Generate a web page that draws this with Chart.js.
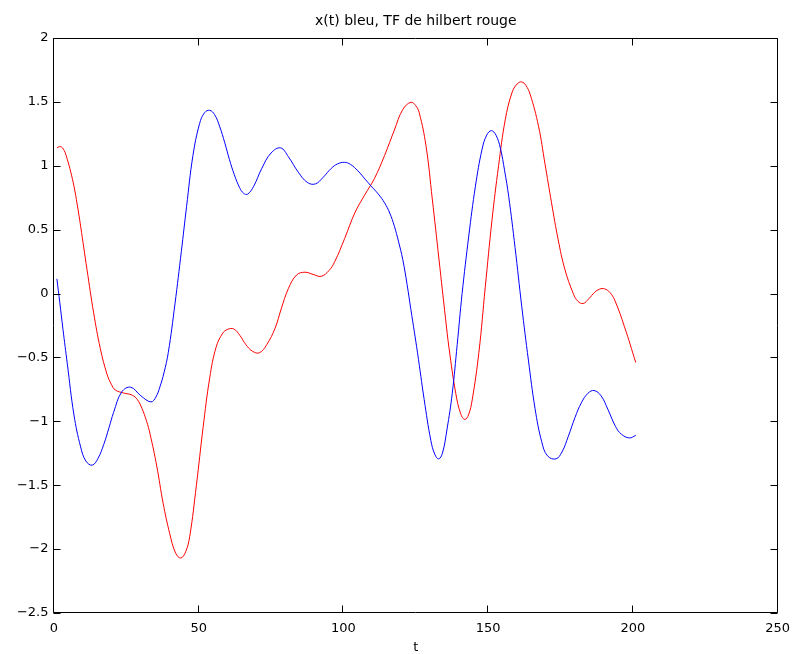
<!DOCTYPE html>
<html>
<head>
<meta charset="utf-8">
<script src="https://cdn.jsdelivr.net/npm/chart.js@4.4.1/dist/chart.umd.min.js"></script>
<style>
html,body{margin:0;padding:0;background:#fff;}
#wrap{width:798px;height:654px;position:relative;}
</style>
</head>
<body>
<div id="wrap"><canvas id="c"></canvas></div>
<script>
const chartTitle = 'x(t) bleu, TF de hilbert rouge';
const xLabel = 't';
const xTicks = [0, 50, 100, 150, 200, 250];
const yTicks = [-2.5, -2, -1.5, -1, -0.5, 0, 0.5, 1, 1.5, 2];

const tBlue = [1, 2, 3.1, 4.6, 6.9, 9.2, 11, 13.2, 15.2, 17.2, 19, 20.6, 23.4, 26.5, 30, 33.5, 35.2, 36.6, 38, 39.5, 41.8, 44, 45.8, 48, 50.3, 52, 53.8, 55.5, 57.2, 59, 60.6, 62.3, 64.1, 65.5, 66.9, 69, 71.8, 75, 78.3, 81, 84.4, 87.5, 90.3, 93, 95.8, 98, 100.4, 102.5, 105, 107.5, 109.6, 112, 114.2, 116, 117.6, 119, 120.5, 122, 123.3, 125.6, 127.9, 130.2, 131.6, 132.9, 134.2, 135.8, 137.6, 139.3, 141, 143.3, 145.6, 147.9, 149.5, 151.1, 152.7, 154.2, 155.7, 157.1, 159.3, 161.6, 163.9, 166.2, 168.5, 170.5, 173.4, 175.5, 177.7, 180, 182.2, 184.5, 186.6, 189, 191.4, 194, 196, 198.8, 201];
const vBlue = [0.115, -0.07, -0.28, -0.55, -0.95, -1.2, -1.31, -1.343, -1.29, -1.18, -1.05, -0.93, -0.77, -0.733, -0.80, -0.848, -0.81, -0.73, -0.62, -0.46, -0.08, 0.33, 0.68, 1.08, 1.33, 1.415, 1.434, 1.40, 1.31, 1.18, 1.05, 0.93, 0.83, 0.785, 0.778, 0.84, 0.98, 1.10, 1.14, 1.07, 0.95, 0.87, 0.858, 0.91, 0.98, 1.015, 1.027, 1.01, 0.96, 0.895, 0.84, 0.78, 0.71, 0.63, 0.527, 0.41, 0.266, 0.07, -0.125, -0.464, -0.83, -1.15, -1.26, -1.294, -1.25, -1.06, -0.78, -0.40, 0.0, 0.45, 0.84, 1.13, 1.24, 1.275, 1.24, 1.14, 0.96, 0.76, 0.36, -0.10, -0.52, -0.90, -1.16, -1.27, -1.294, -1.24, -1.117, -0.97, -0.855, -0.78, -0.759, -0.80, -0.908, -1.04, -1.10, -1.13, -1.11];

const tRed = [1, 2.3, 3.5, 4.6, 5.8, 6.9, 8, 9.2, 11.4, 13.7, 16, 18.3, 19.8, 21.2, 24, 27, 28.8, 30.4, 32, 33.2, 35.5, 37.7, 40, 42, 43.8, 45.5, 46.9, 49.2, 51.5, 53.8, 56, 58.3, 60, 62.1, 64.3, 66.3, 68.5, 70.9, 73.5, 76.4, 78.5, 81, 83.8, 86.7, 89.5, 92.3, 95, 97, 100.4, 103.9, 107.3, 110.7, 114.2, 117.6, 120.5, 123.3, 125, 126.2, 128.5, 130.7, 133, 135.3, 136.5, 138.8, 140.5, 141.9, 143.2, 144.5, 146.8, 149, 151.3, 153.6, 155.9, 158.2, 160, 161.6, 163, 164.5, 167.4, 169.6, 171.9, 174.2, 176.5, 179.4, 181, 182.8, 184.8, 186.8, 188.5, 190.2, 192, 193.7, 197.1, 201];
const vRed = [1.14, 1.15, 1.12, 1.05, 0.95, 0.84, 0.70, 0.527, 0.188, -0.151, -0.43, -0.63, -0.71, -0.755, -0.778, -0.795, -0.83, -0.90, -1.0, -1.10, -1.35, -1.64, -1.88, -2.03, -2.07, -2.02, -1.90, -1.50, -1.05, -0.66, -0.42, -0.31, -0.28, -0.277, -0.33, -0.40, -0.45, -0.464, -0.40, -0.27, -0.12, 0.04, 0.145, 0.167, 0.15, 0.135, 0.18, 0.25, 0.43, 0.63, 0.77, 0.90, 1.08, 1.28, 1.44, 1.497, 1.47, 1.414, 1.16, 0.74, 0.27, -0.20, -0.43, -0.78, -0.94, -0.985, -0.95, -0.83, -0.46, 0.05, 0.57, 1.0, 1.36, 1.57, 1.64, 1.656, 1.63, 1.56, 1.31, 1.02, 0.71, 0.42, 0.19, 0.0, -0.06, -0.078, -0.04, 0.01, 0.035, 0.037, 0.01, -0.05, -0.26, -0.54];

const toPts = (ts, vs) => ts.map((t, i) => ({x: t, y: vs[i]}));
const FONT = 'DejaVu Sans';

const boxPlugin = {
  id: 'matlabBox',
  afterDatasetsDraw(chart) {
    const {ctx, chartArea: a, scales} = chart;
    const L = Math.round(a.left) - 0.5, R = Math.round(a.right) - 0.5;
    const T = Math.round(a.top) + 0.5, B = Math.round(a.bottom) - 0.5;
    const len = 7;
    ctx.save();
    ctx.strokeStyle = '#000';
    ctx.lineWidth = 1;
    ctx.beginPath();
    ctx.rect(L, T, R - L, B - T);
    scales.x.ticks.forEach(tk => {
      const px = Math.round(scales.x.getPixelForValue(tk.value)) - 0.5;
      ctx.moveTo(px, B); ctx.lineTo(px, B - len);
      ctx.moveTo(px, T); ctx.lineTo(px, T + len);
    });
    scales.y.ticks.forEach(tk => {
      const py = Math.round(scales.y.getPixelForValue(tk.value)) + 0.5;
      ctx.moveTo(L, py); ctx.lineTo(L + len, py);
      ctx.moveTo(R, py); ctx.lineTo(R - len, py);
    });
    ctx.stroke();
    ctx.restore();
  }
};

new Chart(document.getElementById('c'), {
  type: 'line',
  data: {
    datasets: [
      {label: 'x(t)', data: toPts(tBlue, vBlue), borderColor: '#0000ff', borderWidth: 1, pointRadius: 0, tension: 0.4, fill: false},
      {label: 'TF de hilbert', data: toPts(tRed, vRed), borderColor: '#ff0000', borderWidth: 1, pointRadius: 0, tension: 0.4, fill: false}
    ]
  },
  options: {
    responsive: true,
    maintainAspectRatio: false,
    animation: false,
    events: [],
    layout: {padding: {left: 0, right: 15.5, top: 0, bottom: 0}},
    plugins: {
      legend: {display: false},
      tooltip: {enabled: false},
      title: {
        display: true, text: chartTitle, fullSize: false,
        color: '#000', font: {family: FONT, size: 14, weight: 'normal'},
        padding: {top: 12.5, bottom: 8.7}
      }
    },
    scales: {
      x: {
        type: 'linear', min: 0, max: 250,
        afterBuildTicks: s => { s.ticks = xTicks.map(v => ({value: v})); },
        afterFit: s => { s.height = 41; },
        grid: {display: false, drawTicks: false},
        border: {display: false},
        ticks: {color: '#000', font: {family: FONT, size: 13}, padding: 8, maxRotation: 0, autoSkip: false},
        title: {display: true, text: xLabel, color: '#000', font: {family: FONT, size: 13}, padding: {top: 0, bottom: -1.5}}
      },
      y: {
        type: 'linear', min: -2.5, max: 2,
        afterBuildTicks: s => { s.ticks = yTicks.map(v => ({value: v})); },
        afterFit: s => { s.width = 54; },
        grid: {display: false, drawTicks: false},
        border: {display: false},
        ticks: {color: '#000', font: {family: FONT, size: 13}, padding: 5.5, autoSkip: false,
          callback: v => String(v).replace('-', '\u2212')}
      }
    }
  },
  plugins: [boxPlugin]
});
</script>
</body>
</html>
